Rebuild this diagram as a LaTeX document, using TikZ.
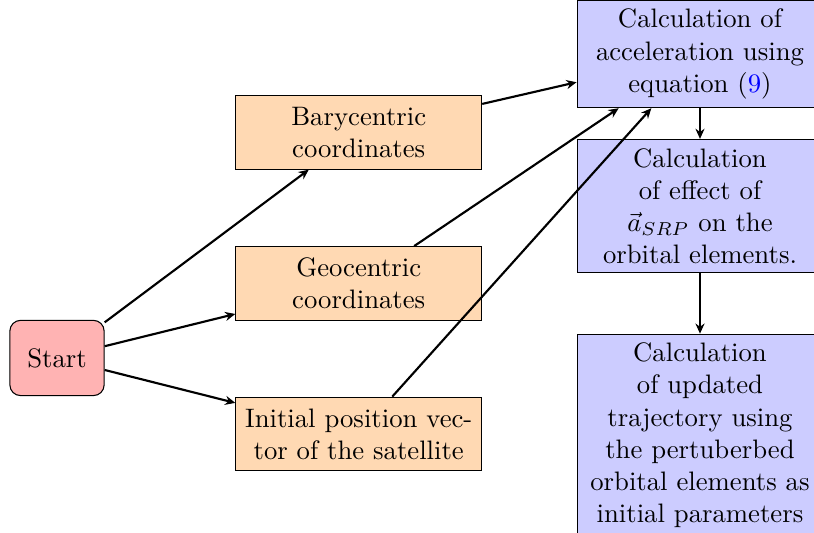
\documentclass[tikz,border=0pt]{standalone}
\usepackage{tikz}
\usetikzlibrary{arrows.meta}
\definecolor{flowStart}{HTML}{FFB3B3}
\definecolor{flowInput}{HTML}{FFD9B3}
\definecolor{flowCalc}{HTML}{CCCCFF}
\tikzset{
  flow start/.style={draw=black, fill=flowStart, rounded corners=4pt,
    minimum width=1.24cm, minimum height=0.99cm, align=center},
  flow input/.style={draw=black, fill=flowInput, text width=3cm,
    minimum height=0.97cm, align=center},
  flow calc/.style={draw=black, fill=flowCalc, text width=3cm,
    align=center},
  flow arrow/.style={-{Stealth[length=3.8pt,width=3.4pt]}, thick}
}
\begin{document}
\begin{tikzpicture}
  \useasboundingbox (-0.75,-2.30) rectangle (9.96,4.71);
  \node[flow start] (start) at (0,0) {Start};
  \node[flow input] (bary) at (3.97,2.97) {Barycentric coordinates};
  \node[flow input] (geo) at (3.97,0.98) {Geocentric coordinates};
  \node[flow input] (init) at (3.97,-1) {Initial position vector of the satellite};
  \node[flow calc] (accel) at (8.46,4) {Calculation of acceleration using equation (\textcolor{blue}{9})};
  \node[flow calc] (effect) at (8.46,2) {Calculation of effect of $\vec{a}_{SRP}$ on the orbital elements.};
  \node[flow calc,anchor=north] (update) at (8.46,0.32) {Calculation of updated trajectory using the pertuberbed orbital elements as initial parameters};
  % start to the three inputs
  \draw[flow arrow] (start) -- (bary);
  \draw[flow arrow] (start) -- (geo);
  \draw[flow arrow] (start) -- (init);
  % inputs to the acceleration
  \draw[flow arrow] (bary) -- (accel);
  \draw[flow arrow] (geo) -- ([xshift=-1.07cm]accel.south);
  \draw[flow arrow] (init) -- ([xshift=-0.64cm]accel.south);
  \draw[flow arrow] (accel) -- (effect);
  \draw[flow arrow] (effect) -- (update);
\end{tikzpicture}
\end{document}
